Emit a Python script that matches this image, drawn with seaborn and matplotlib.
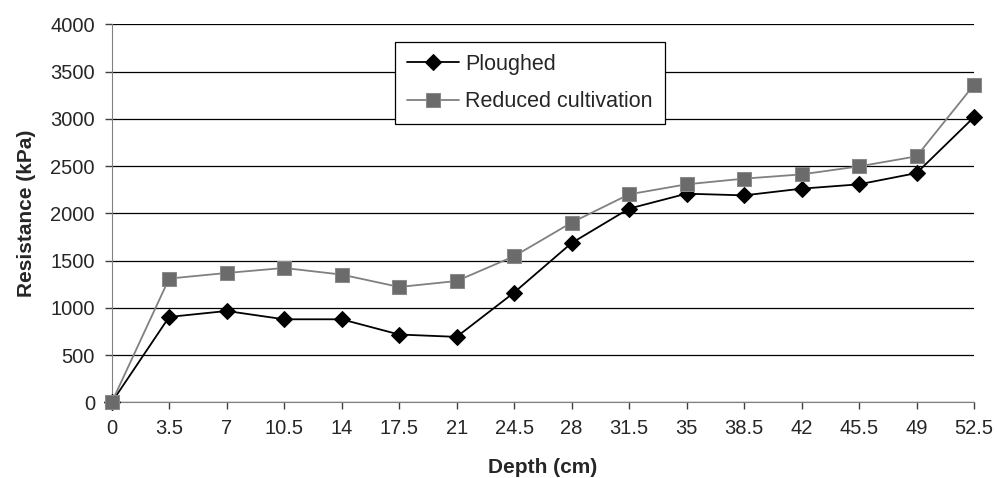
import matplotlib
matplotlib.use('Agg')
import matplotlib.pyplot as plt
import seaborn as sns
import pandas as pd

# chart data
depth = [0, 3.5, 7, 10.5, 14, 17.5, 21, 24.5, 28, 31.5, 35, 38.5, 42, 45.5, 49, 52.5]
ploughed = [0, 905, 968, 880, 880, 719, 694, 1163, 1687, 2051, 2209, 2191, 2262, 2308, 2427, 3019]
reduced = [0, 1311, 1370, 1423, 1353, 1222, 1285, 1547, 1903, 2202, 2308, 2368, 2413, 2498, 2604, 3361]
tick_labels = ['0', '3.5', '7', '10.5', '14', '17.5', '21', '24.5', '28', '31.5',
               '35', '38.5', '42', '45.5', '49', '52.5']

df = pd.DataFrame({'Depth': depth, 'Ploughed': ploughed, 'Reduced cultivation': reduced})

sns.set_style("white")
plt.rcParams['font.family'] = ['Liberation Sans', 'DejaVu Sans']

fig = plt.figure(figsize=(9.97, 4.78), dpi=100)
ax = fig.add_axes([0.112, 0.158, 0.865, 0.791])

sns.lineplot(data=df, x='Depth', y='Ploughed', ax=ax, color='black', linewidth=1.3,
             marker='D', markersize=8, markerfacecolor='black', markeredgecolor='black',
             label='Ploughed', zorder=3, clip_on=False)
sns.lineplot(data=df, x='Depth', y='Reduced cultivation', ax=ax, color='#808080', linewidth=1.3,
             marker='s', markersize=10, markerfacecolor='#6b6b6b', markeredgecolor='#8a8a8a',
             label='Reduced cultivation', zorder=4, clip_on=False)

ax.set_xlim(0, 52.5)
ax.set_ylim(0, 4000)
ax.set_xticks(depth)
ax.set_xticklabels(tick_labels)
ax.set_yticks(range(0, 4001, 500))
ax.yaxis.grid(True, color='black', linewidth=0.9)
ax.set_axisbelow(True)

for side in ['top', 'right']:
    ax.spines[side].set_visible(False)
ax.spines['left'].set_color('#808080')
ax.spines['bottom'].set_color('#808080')
ax.tick_params(axis='both', labelsize=14.5, direction='out', length=5, width=1,
               color='#404040', bottom=True, left=True, pad=7)

ax.set_xlabel('Depth (cm)', fontsize=15, fontweight='bold', labelpad=14)
ax.set_ylabel('Resistance (kPa)', fontsize=15, fontweight='bold', labelpad=10)

leg = ax.legend(loc='upper left', bbox_to_anchor=(0.329, 0.953), fontsize=15.5,
                frameon=True, fancybox=False, edgecolor='black', framealpha=1,
                borderpad=0.55, borderaxespad=0, handlelength=2.4, labelspacing=0.75,
                handletextpad=0.3)
leg.get_frame().set_linewidth(0.9)

fig.savefig('out.png', dpi=100)
